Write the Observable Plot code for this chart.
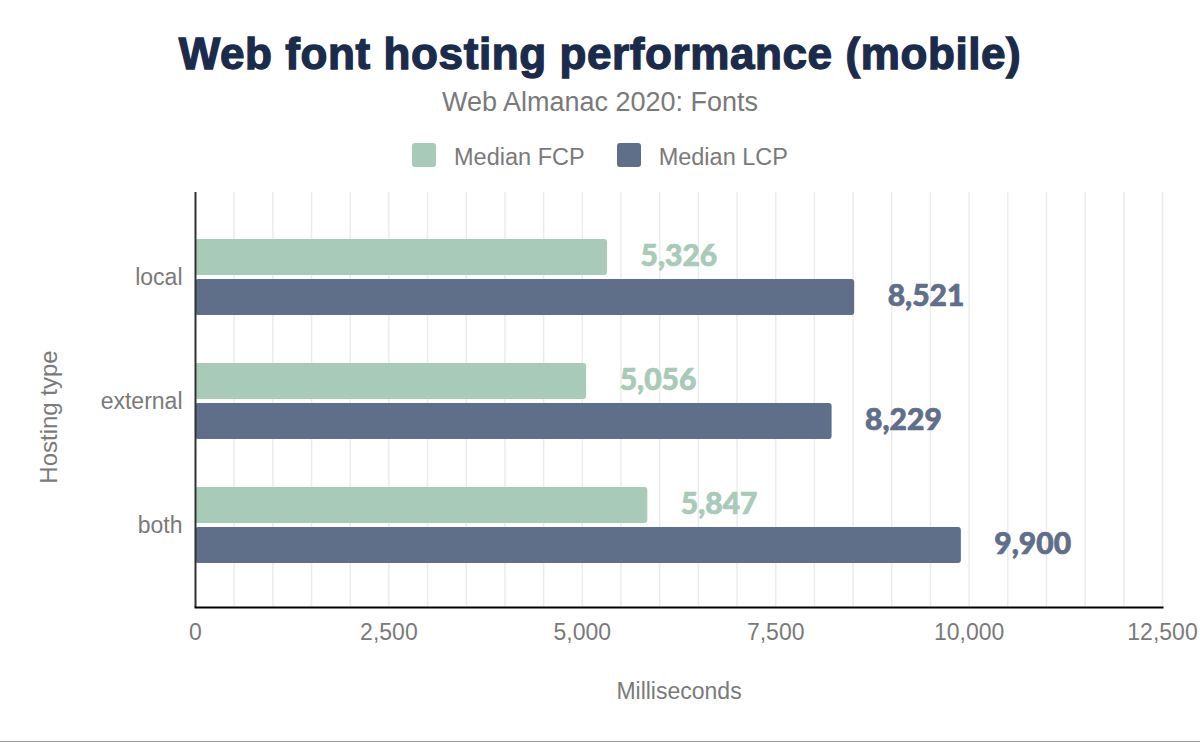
<!DOCTYPE html>
<html>
<head>
<meta charset="utf-8">
<script src="https://cdn.jsdelivr.net/npm/d3@7"></script>
<script src="https://cdn.jsdelivr.net/npm/@observablehq/plot@0.6"></script>
<style>
  body { margin: 0; background: #fff; }
  #wrap { position: relative; width: 1200px; height: 741px; border-bottom: 1px solid #9a9a9a; font-family: "Liberation Sans", Arial, sans-serif; overflow: hidden; background: #fff; }
  .title { position: absolute; left: 0; top: 32px; width: 1200px; text-align: center; font-size: 44px; line-height: 44px; font-weight: 900; color: #1b2b4b; letter-spacing: 0.6px; -webkit-text-stroke: 1.3px #1b2b4b; }
  .subtitle { position: absolute; left: 0; top: 89px; width: 1200px; text-align: center; font-size: 27px; line-height: 27px; color: #7a7a7a; }
  .legend { position: absolute; left: 0; top: 143px; width: 1200px; display: flex; justify-content: center; align-items: flex-start; }
  .item { display: flex; align-items: flex-start; margin: 0 16px; }
  .sw { width: 24px; height: 24px; border-radius: 3px; margin-right: 18px; }
  .lab { font-size: 23.5px; line-height: 24px; padding-top: 2px; color: #7a7a7a; }
  #chart { position: absolute; left: 0; top: 185px; }
</style>
</head>
<body>
<div id="wrap">
  <div class="title">Web font hosting performance (mobile)</div>
  <div class="subtitle">Web Almanac 2020: Fonts</div>
  <div class="legend" id="legend"></div>
  <div id="chart"></div>
</div>
<script>
const categories = ["local", "external", "both"];
const fcpValues = [5326, 5056, 5847];
const lcpValues = [8521, 8229, 9900];
const seriesNames = ["Median FCP", "Median LCP"];
const seriesColors = ["#a8cab9", "#5f6f8a"];
const xTicks = [0, 2500, 5000, 7500, 10000, 12500];
const gridTicks = [0, 500, 1000, 1500, 2000, 2500, 3000, 3500, 4000, 4500, 5000, 5500, 6000, 6500, 7000, 7500, 8000, 8500, 9000, 9500, 10000, 10500, 11000, 11500, 12000, 12500];
const xTitle = "Milliseconds";
const yTitle = "Hosting type";

const rows = categories.map((c, i) => ({category: c, fcp: fcpValues[i], lcp: lcpValues[i]}));
const fmt = d3.format(",");

// legend
const legend = document.getElementById("legend");
seriesNames.forEach((n, i) => {
  const it = document.createElement("div");
  it.className = "item";
  it.innerHTML = `<div class="sw" style="background:${seriesColors[i]}"></div><div class="lab">${n}</div>`;
  legend.appendChild(it);
});

const chart = Plot.plot({
  width: 1200,
  height: 556,
  marginTop: 7,
  marginBottom: 134,
  marginLeft: 195,
  marginRight: 38,
  style: {fontFamily: "Liberation Sans, Arial, sans-serif", fontSize: "23px", color: "#7a7a7a", background: "transparent"},
  x: {domain: [0, 12500]},
  y: {domain: categories, padding: 0, insetTop: 23, insetBottom: 20},
  marks: [
    Plot.gridX(gridTicks, {stroke: "#ececec", strokeOpacity: 1, strokeWidth: 1.5}),
    Plot.barX(rows, {x: "fcp", y: "category", fill: seriesColors[0], insetTop: 24, insetBottom: 64, rx: 3}),
    Plot.barX(rows, {x: "lcp", y: "category", fill: seriesColors[1], insetTop: 64, insetBottom: 24, rx: 3}),
    Plot.text(rows, {x: "fcp", y: "category", text: d => fmt(d.fcp), dx: 33, dy: -21, textAnchor: "start", lineAnchor: "middle", fill: seriesColors[0], stroke: seriesColors[0], strokeWidth: 0.7, fontSize: 30, fontWeight: 900, fontFamily: "Lato"}),
    Plot.text(rows, {x: "lcp", y: "category", text: d => fmt(d.lcp), dx: 33, dy: 19, textAnchor: "start", lineAnchor: "middle", fill: seriesColors[1], stroke: seriesColors[1], strokeWidth: 0.7, fontSize: 30, fontWeight: 900, fontFamily: "Lato"}),
    Plot.ruleX([0], {stroke: "#333", strokeWidth: 2}),
    Plot.frame({anchor: "bottom", stroke: "#000", strokeWidth: 2}),
    Plot.axisX({ticks: xTicks, tickSize: 0, tickPadding: 16, tickFormat: fmt, fill: "#7a7a7a", fontSize: 23, label: null}),
    Plot.axisY({tickSize: 0, tickPadding: 13, fill: "#7a7a7a", fontSize: 23, label: null}),
    Plot.text([xTitle], {frameAnchor: "bottom", dy: 84, lineAnchor: "middle", textAnchor: "middle", fill: "#7a7a7a", fontSize: 23}),
    Plot.text([yTitle], {frameAnchor: "left", rotate: -90, dx: -146, dy: 17, lineAnchor: "middle", textAnchor: "middle", fill: "#7a7a7a", fontSize: 24})
  ]
});
document.getElementById("chart").appendChild(chart);
</script>
</body>
</html>
